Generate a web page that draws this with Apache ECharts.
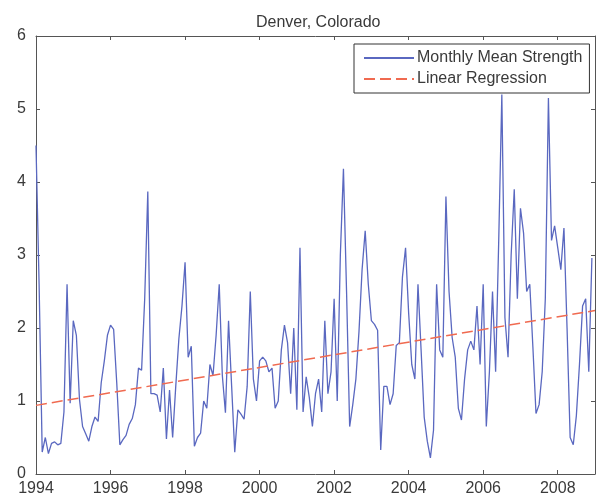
<!DOCTYPE html>
<html><head><meta charset="utf-8">
<script src="https://cdn.jsdelivr.net/npm/echarts@6/dist/echarts.min.js"></script>
<style>html,body{margin:0;padding:0;background:#fff}#c{width:597px;height:497px}</style>
</head><body><div id="c"></div>
<script>
const startYear = 1994;
const monthlyStrength = [
  4.5, 2.6, 0.3, 0.5, 0.28, 0.42, 0.44, 0.4, 0.42, 0.85, 2.6, 0.97,
  2.1, 1.9, 1.02, 0.65, 0.55, 0.45, 0.65, 0.78, 0.72, 1.25, 1.55, 1.9,
  2.04, 1.98, 1.25, 0.4, 0.47, 0.53, 0.68, 0.76, 0.95, 1.45, 1.42, 2.4,
  3.87, 1.1, 1.1, 1.08, 0.85, 1.45, 0.48, 1.15, 0.5, 1.2, 1.85, 2.3,
  2.9, 1.6, 1.75, 0.38, 0.5, 0.56, 1.0, 0.9, 1.5, 1.35, 1.9, 2.6,
  1.35, 0.84, 2.1, 1.2, 0.3, 0.88, 0.82, 0.75, 1.2, 2.5, 1.3, 1.0,
  1.55, 1.6, 1.55, 1.4, 1.45, 0.9, 1.0, 1.7, 2.04, 1.8, 1.1, 2.0,
  0.88, 3.1, 0.85, 1.33, 1.05, 0.65, 1.1, 1.3, 0.85, 2.1, 1.1, 1.4,
  2.4, 1.0, 3.0, 4.18, 2.5, 0.65, 0.95, 1.3, 1.95, 2.8, 3.33, 2.6,
  2.1, 2.05, 1.97, 0.33, 1.2, 1.2, 0.95, 1.1, 1.76, 1.8, 2.7, 3.1,
  2.2, 1.5, 1.3, 2.6, 1.7, 0.78, 0.45, 0.22, 0.6, 2.6, 1.7, 1.6,
  3.8, 2.5, 1.87, 1.6, 0.9, 0.74, 1.3, 1.7, 1.82, 1.7, 2.3, 1.5,
  2.6, 0.65, 1.4, 2.5, 1.4, 3.2, 5.2, 2.14, 1.6, 3.0, 3.9, 2.4,
  3.64, 3.3, 2.5, 2.6, 1.74, 0.83, 0.95, 1.4, 2.4, 5.15, 3.2, 3.4,
  3.1, 2.8, 3.37, 2.0, 0.5, 0.4, 0.8, 1.5, 2.3, 2.4, 1.4, 2.96
];
const regressionYears = [1994, 2009];
const regressionValues = [0.94, 2.24];
const xTickLabels = [1994, 1996, 1998, 2000, 2002, 2004, 2006, 2008];
const yTickLabels = [0, 1, 2, 3, 4, 5, 6];

const strengthData = monthlyStrength.map((v, i) => [startYear + i / 12, v]);
const regressionData = regressionYears.map((y, i) => [y, regressionValues[i]]);

const FONT = "'Liberation Sans', Arial, sans-serif";
const AX = '#555555';
const TXT = '#3a3a3a';
const BLUE = '#5a68c0';
const RED = '#f06a50';

function xAxisCfg(pos, showLabels) {
  return {
    type: 'value', position: pos, min: 1994, max: 2009, interval: 2,
    axisLine: { show: true, onZero: false, lineStyle: { color: AX, width: 1 } },
    axisTick: { show: true, inside: true, length: 4, lineStyle: { color: AX } },
    axisLabel: {
      show: showLabels, showMaxLabel: false, margin: 7,
      color: TXT, fontFamily: FONT, fontSize: 16,
      formatter: v => (xTickLabels.indexOf(v) >= 0 ? String(v) : '')
    },
    splitLine: { show: false }
  };
}
function yAxisCfg(pos, showLabels) {
  return {
    type: 'value', position: pos, min: 0, max: 6, interval: 1,
    axisLine: { show: true, onZero: false, lineStyle: { color: AX, width: 1 } },
    axisTick: { show: true, inside: true, length: 4, lineStyle: { color: AX } },
    axisLabel: {
      show: showLabels, margin: 10, color: TXT, fontFamily: FONT, fontSize: 16,
      formatter: v => (yTickLabels.indexOf(v) >= 0 ? String(v) : '')
    },
    splitLine: { show: false }
  };
}

const chart = echarts.init(document.getElementById('c'), null, { renderer: 'canvas' });
chart.setOption({
  animation: false,
  backgroundColor: '#ffffff',
  title: {
    text: 'Denver, Colorado', left: 251, top: 10,
    textStyle: { fontFamily: FONT, fontSize: 16, fontWeight: 'normal', color: TXT }
  },
  grid: { left: 36, right: 2, top: 36, bottom: 19, containLabel: false },
  xAxis: [xAxisCfg('bottom', true), xAxisCfg('top', false)],
  yAxis: [yAxisCfg('left', true), yAxisCfg('right', false)],
  legend: {
    left: 354, top: 44, orient: 'vertical',
    padding: [6, 7, 6, 9], itemGap: 5, itemWidth: 50, itemHeight: 16,
    borderColor: '#333', borderWidth: 1, backgroundColor: '#fff',
    itemStyle: { opacity: 0 },
    textStyle: { fontFamily: FONT, fontSize: 16, color: TXT, padding: [0, 0, 0, -2] },
    data: ['Monthly Mean Strength', 'Linear Regression']
  },
  series: [
    {
      name: 'Monthly Mean Strength', type: 'line', data: strengthData,
      xAxisIndex: 0, yAxisIndex: 0, showSymbol: false, symbol: 'none',
      lineStyle: { color: BLUE, width: 1.3 }, itemStyle: { color: BLUE }
    },
    {
      name: 'Linear Regression', type: 'line', data: regressionData,
      xAxisIndex: 0, yAxisIndex: 0, showSymbol: false, symbol: 'none',
      lineStyle: { color: RED, width: 1.5, type: [11, 5] }, itemStyle: { color: RED }
    }
  ]
});
</script>
</body></html>
